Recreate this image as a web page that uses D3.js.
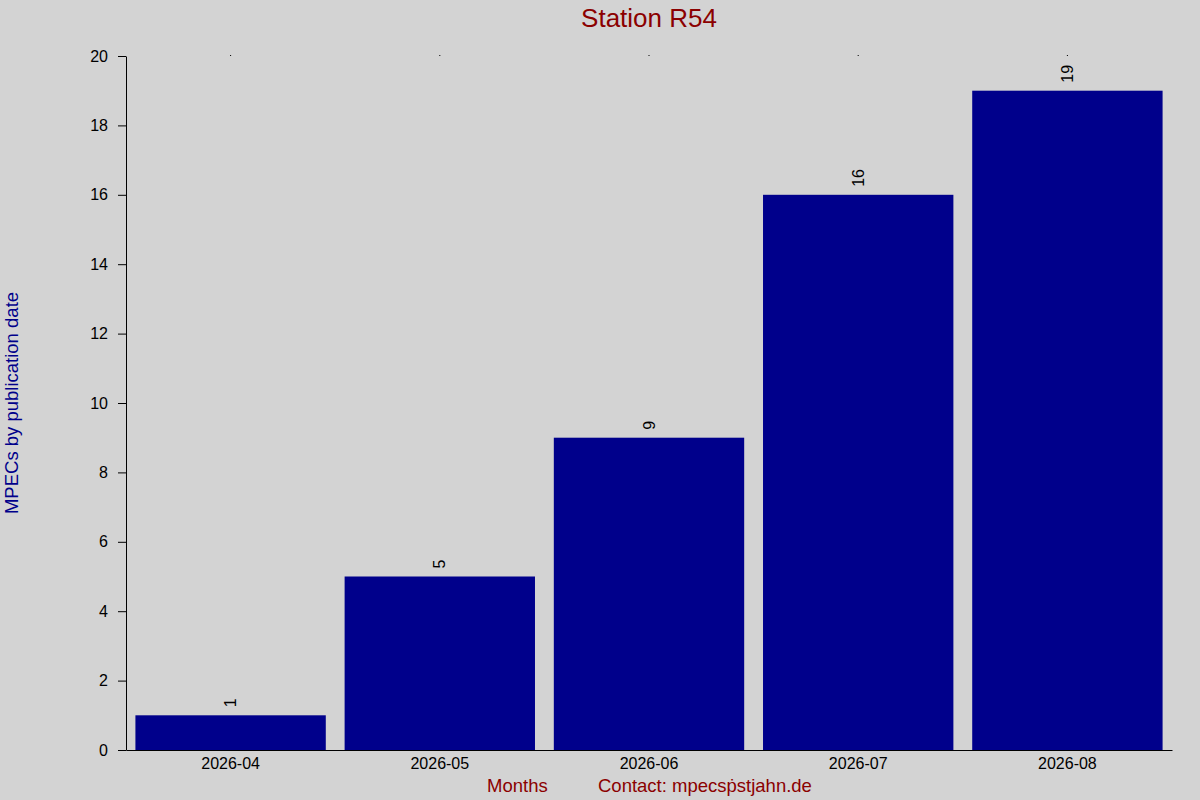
<!DOCTYPE html>
<html>
<head>
<meta charset="utf-8">
<script src="https://cdn.jsdelivr.net/npm/d3@7"></script>
<style>
  body { margin: 0; background: #d3d3d3; }
  svg { display: block; font-family: "Liberation Sans", Arial, sans-serif; }
</style>
</head>
<body>
<div id="chart"></div>
<script>
// chart data
var months = ["2026-04", "2026-05", "2026-06", "2026-07", "2026-08"];
var counts = [1, 5, 9, 16, 19];
var yTicks = [0, 2, 4, 6, 8, 10, 12, 14, 16, 18, 20];

var svgWidth = 1200;
var svgHeight = 800;

var margin = { top: 56, right: 28, bottom: 50, left: 126 };

var width = svgWidth - margin.left - margin.right;
var height = svgHeight - margin.top - margin.bottom;

var svg = d3.select("#chart")
  .append("svg")
  .attr("width", svgWidth)
  .attr("height", svgHeight);

svg.append("rect")
  .attr("width", svgWidth)
  .attr("height", svgHeight)
  .attr("fill", "#d3d3d3");

var chartGroup = svg.append("g")
  .attr("transform", `translate(${margin.left}, ${margin.top})`);

var data = months.map((m, i) => ({ month: m, count: counts[i] }));

// scales
var xScale = d3.scaleBand()
  .domain(months)
  .range([0, width])
  .paddingInner(0.09)
  .paddingOuter(0.045);

var yScale = d3.scaleLinear()
  .domain([0, 20])
  .range([height, 0]);

// bars
chartGroup.selectAll("rect.bar")
  .data(data)
  .enter()
  .append("rect")
  .attr("class", "bar")
  .attr("x", d => xScale(d.month))
  .attr("y", d => yScale(d.count))
  .attr("width", xScale.bandwidth())
  .attr("height", d => height - yScale(d.count))
  .attr("fill", "#00008b");

// value labels, rotated
chartGroup.selectAll("text.val")
  .data(data)
  .enter()
  .append("text")
  .attr("class", "val")
  .attr("transform", d => `translate(${xScale(d.month) + xScale.bandwidth() / 2}, ${yScale(d.count) - 8}) rotate(-90)`)
  .attr("dy", "0.35em")
  .attr("text-anchor", "start")
  .style("font-size", "16px")
  .attr("fill", "#000")
  .text(d => d.count);

// axes
var leftAxis = d3.axisLeft(yScale)
  .tickValues(yTicks)
  .tickSizeInner(8)
  .tickSizeOuter(0)
  .tickPadding(10);

var yAxisG = chartGroup.append("g").call(leftAxis);
yAxisG.selectAll("text").style("font-size", "16px").attr("fill", "#000");
yAxisG.selectAll("line, path").attr("stroke", "#000");

var bottomAxis = d3.axisBottom(xScale)
  .tickSize(0)
  .tickPadding(8);

var xAxisG = chartGroup.append("g")
  .attr("transform", `translate(0, ${height})`)
  .call(bottomAxis);
xAxisG.selectAll("text").style("font-size", "16px").attr("fill", "#000");
xAxisG.select("path").attr("stroke", "#000");

// tiny marks along the top
var topAxis = d3.axisTop(xScale).tickSize(1).tickFormat("");
var topG = chartGroup.append("g").call(topAxis);
topG.select("path").remove();
topG.selectAll("line").attr("stroke", "#000");

// title
svg.append("text")
  .attr("x", margin.left + width / 2)
  .attr("y", 27)
  .attr("text-anchor", "middle")
  .style("font-size", "26px")
  .attr("fill", "#8b0000")
  .text("Station R54");

// y axis label
svg.append("text")
  .attr("transform", `translate(18, ${margin.top + height / 2}) rotate(-90)`)
  .attr("text-anchor", "middle")
  .style("font-size", "18.5px")
  .attr("fill", "#00008b")
  .text("MPECs by publication date");

// bottom labels
svg.append("text")
  .attr("x", 487)
  .attr("y", 792)
  .style("font-size", "18.5px")
  .attr("fill", "#8b0000")
  .text("Months");

svg.append("text")
  .attr("x", 598)
  .attr("y", 792)
  .style("font-size", "18.5px")
  .attr("fill", "#8b0000")
  .text("Contact: mpecsṗstjahn.de");
</script>
</body>
</html>
